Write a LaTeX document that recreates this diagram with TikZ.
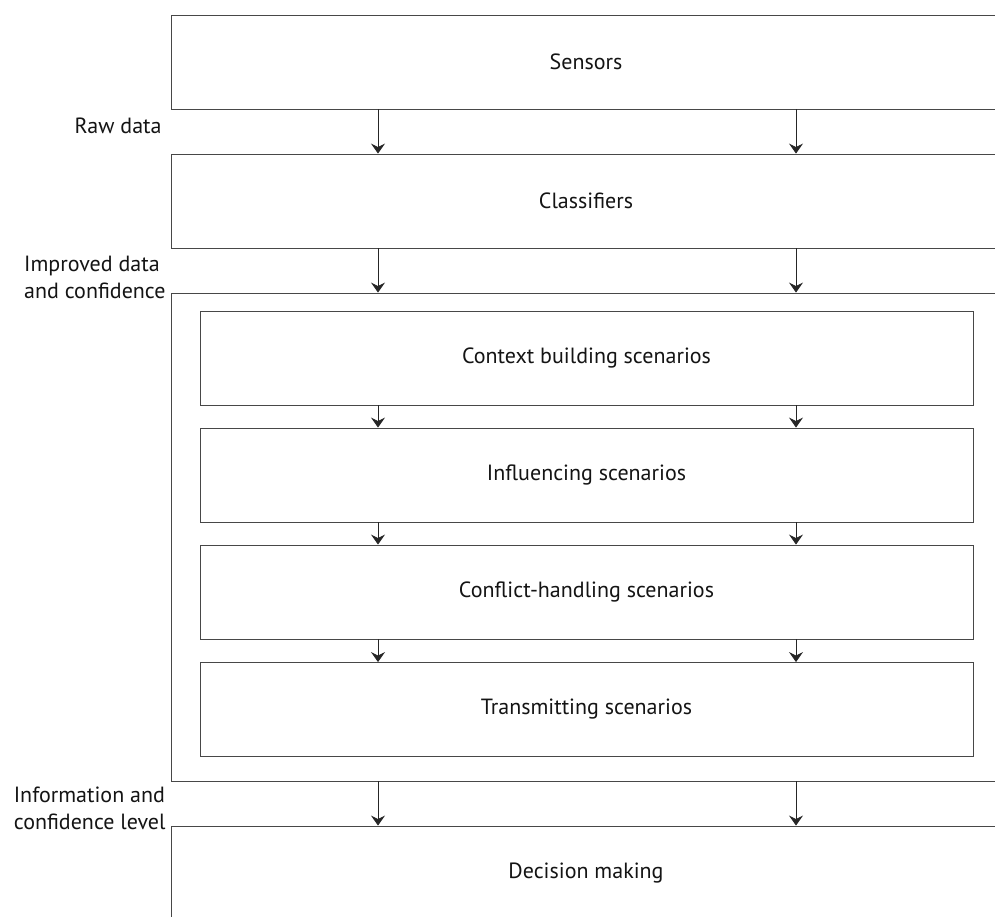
\documentclass[tikz,border=0pt]{standalone}
\usepackage{fontspec}
\setmainfont{PT Sans}
\usetikzlibrary{arrows.meta}
\begin{document}
\begin{tikzpicture}[x=1pt,y=1pt,
  line width=0.9pt,
  every node/.style={font=\fontsize{22}{27}\selectfont, text=black!92},
  stage/.style={draw=black!72, rectangle, inner sep=0pt, minimum width=830pt},
  scen/.style={draw=black!72, rectangle, inner sep=0pt, minimum width=773pt, minimum height=94pt},
  flow/.style={draw=black!85, -{Stealth[length=10pt,width=14pt,inset=3.5pt]}},
  lbl/.style={anchor=east, align=left, inner sep=0pt}]
\useasboundingbox (0,0) rectangle (995,-916);
\clip (0,0) rectangle (995,-916);
\fill[white] (0,0) rectangle (995,-916);

% main pipeline stages (they run past the right and bottom edges)
\node[stage, minimum height=94pt] (sensors) at (586,-62) {Sensors};
\node[stage, minimum height=94pt] (classifiers) at (586,-201) {Classifiers};
\node[stage, minimum height=488pt] (scenarios) at (586,-537) {};
\node[stage, minimum height=94pt] (decision) at (586,-873) {Decision making};

% scenario blocks inside the middle stage
\node[scen] (context) at (586.5,-358) {Context building scenarios};
\node[scen] (influencing) at (586.5,-475) {Influencing scenarios};
\node[scen] (conflict) at (586.5,-592) {Conflict-handling scenarios};
\node[scen] (transmitting) at (586.5,-709.5) {Transmitting scenarios};

% arrow columns
\coordinate (ca) at (378,0);
\coordinate (cb) at (796,0);

\foreach \u/\v in {sensors/classifiers, classifiers/scenarios, scenarios/decision,
                   context/influencing, influencing/conflict, conflict/transmitting}{
  \draw[flow] (\u.south -| ca) -- (\v.north -| ca);
  \draw[flow] (\u.south -| cb) -- (\v.north -| cb);
}

% labels on the left
\node[lbl] (raw) at (162,-126) {Raw data};
\node[lbl] (improved) at (166,-277) {Improved data\\and confidence};
\node[lbl] (info) at (166,-808) {Information and\\confidence level};
\end{tikzpicture}
\end{document}
